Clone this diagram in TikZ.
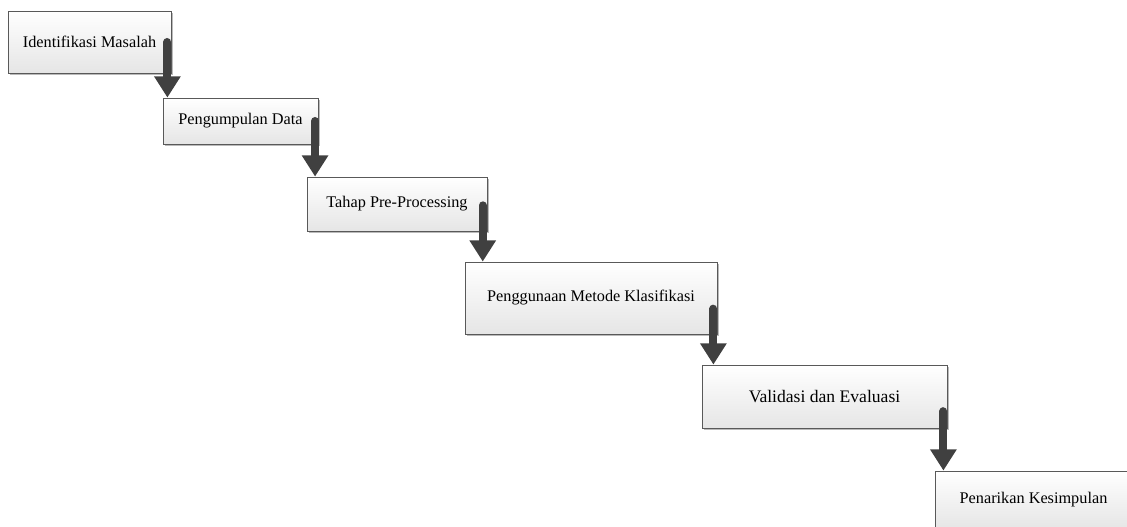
\documentclass[tikz,border=0pt]{standalone}
\usepackage{fontspec}
\setmainfont{Liberation Serif}
\usetikzlibrary{arrows.meta, shadows}
\definecolor{arrowgray}{HTML}{404040}
\tikzset{
x=0.75pt, y=-0.75pt,
stage/.style={draw=black!65, line width=0.6pt, inner sep=0pt,
  top color=white, bottom color=black!10,
  drop shadow={shadow xshift=1.2pt, shadow yshift=-1.2pt, fill=black!45, opacity=.6},
  font=\fontsize{12.2pt}{14pt}\selectfont},
flow/.style={draw=arrowgray, line width=6pt, line cap=round,
  -{Triangle[width=19pt,length=16pt]}},
}

\begin{document}
\begin{tikzpicture}
            \useasboundingbox (0,0) rectangle (1127,527);
            \clip (0,0) rectangle (1127,527);

            \node[stage, minimum width=122.25pt, minimum height=46.5pt] (S1) at (89.5,42) {Identifikasi Masalah};
            \node[stage, minimum width=116.25pt, minimum height=34.5pt] (S2) at (240.5,121) {Pengumpulan Data};
            \node[stage, minimum width=135pt, minimum height=40.5pt] (S3) at (397,204) {Tahap Pre-Processing};
            \node[stage, minimum width=189pt, minimum height=54pt] (S4) at (591,298) {Penggunaan Metode Klasifikasi};
            \node[stage, minimum width=183.75pt, minimum height=47.25pt, font=\fontsize{13.2pt}{15pt}\selectfont] (S5) at (824.5,396.5) {Validasi dan Evaluasi};
            \node[stage, minimum width=147.75pt, minimum height=43.5pt] (S6) at (1033.5,500) {Penarikan Kesimpulan};

            % start points of the arrows
            \coordinate (a1) at ([xshift=-3pt]S1.east);
            \coordinate (a2) at ([xshift=-2.5pt]S2.east);
            \coordinate (a3) at ([xshift=-3.5pt,yshift=-1pt]S3.east);
            \coordinate (a4) at ([xshift=-3pt,yshift=-8pt]S4.east);
            \coordinate (a5) at ([xshift=-3pt,yshift=-11pt]S5.east);

            % Arrows between stages
            \draw[flow] (a1) -- (a1 |- S2.north);
            \draw[flow] (a2) -- (a2 |- S3.north);
            \draw[flow] (a3) -- (a3 |- S4.north);
            \draw[flow] (a4) -- (a4 |- S5.north);
            \draw[flow] (a5) -- (a5 |- S6.north);
     \end{tikzpicture}
\end{document}
